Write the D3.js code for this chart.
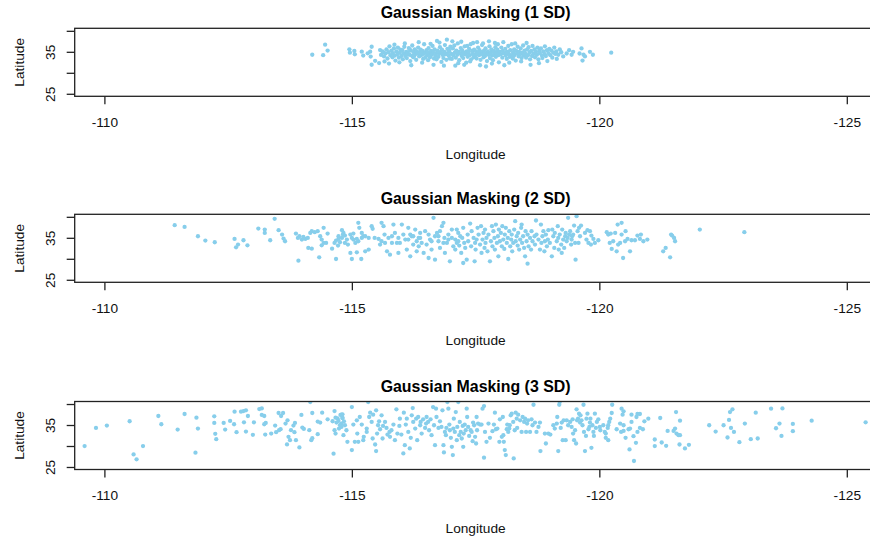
<!DOCTYPE html>
<html>
<head>
<meta charset="utf-8">
<script src="https://cdn.jsdelivr.net/npm/d3@7"></script>
<style>
html,body{margin:0;padding:0;background:#fff;}
svg{display:block;font-family:"Liberation Sans",Arial,Helvetica,sans-serif;}
</style>
</head>
<body>
<script>
// ---------- data ----------
const titles = ["Gaussian Masking (1 SD)", "Gaussian Masking (2 SD)", "Gaussian Masking (3 SD)"];
const xTicks = [-110, -115, -120, -125];
const yTicks = [25, 30, 35, 40];
const yLabelTicks = [25, 35];
const xLabel = "Longitude";
const yLabel = "Latitude";

// [longitude, latitude] pairs, 1 SD masking
const sd1 = [
[-114.2,34.3],[-114.42,34.2],[-114.46,36.7],[-114.51,35.3],
[-114.95,35.58],[-114.96,34.8],[-115.05,35.19],[-115.06,34.41],[-115.2,35.03],[-115.23,34.1],[-115.32,34.64],
[-115.37,35.03],[-115.38,33.87],[-115.4,36.2],[-115.4,31.92],[-115.47,32.85],[-115.55,32.31],[-115.57,35.42],[-115.59,34.25],[-115.64,34.88],
[-115.62,35.1],[-115.65,33.9],[-115.68,34.6],[-115.7,35.6],[-115.72,33.4],[-115.74,34.9],[-115.76,36.3],[-115.78,34.2],[-115.8,35.3],[-115.82,33.7],
[-115.83,34.7],[-115.85,35.8],[-115.87,34.1],[-115.88,32.9],[-115.9,35.1],[-115.92,34.4],[-115.93,36.0],[-115.95,33.6],[-115.97,34.8],[-115.98,35.5],
[-116.0,34.0],[-115.66,32.7],[-115.86,36.7],[-115.75,32.2],[-115.96,32.5],
[-116.02,35.4],[-116.03,33.2],[-116.05,34.6],[-116.06,36.2],[-116.08,34.0],[-116.1,35.0],[-116.11,33.5],[-116.13,34.8],[-116.15,35.9],[-116.16,34.3],
[-116.18,32.8],[-116.19,35.3],[-116.21,34.1],[-116.22,36.5],[-116.24,33.7],[-116.25,34.9],[-116.27,35.6],[-116.28,34.4],[-116.3,33.1],[-116.31,35.1],
[-116.33,34.6],[-116.34,36.0],[-116.36,33.9],[-116.37,34.9],[-116.39,35.5],[-116.4,34.2],[-116.42,32.4],[-116.43,35.2],[-116.45,34.5],[-116.46,36.8],
[-116.48,33.6],[-116.49,34.8],[-116.07,37.0],[-116.2,31.8],[-116.35,37.3],[-116.12,34.5],[-116.26,34.0],[-116.38,34.7],[-116.44,33.3],[-116.17,35.6],
[-116.51,35.4],[-116.52,34.1],[-116.54,33.0],[-116.55,35.9],[-116.57,34.6],[-116.58,33.7],[-116.6,35.2],[-116.61,34.3],[-116.63,36.4],[-116.64,34.9],
[-116.66,33.4],[-116.67,35.6],[-116.69,34.0],[-116.7,34.7],[-116.72,37.6],[-116.73,35.3],[-116.75,33.8],[-116.76,34.5],[-116.78,36.1],[-116.79,34.9],
[-116.81,32.6],[-116.82,35.5],[-116.84,34.2],[-116.85,33.5],[-116.87,35.0],[-116.88,36.6],[-116.9,34.4],[-116.91,33.1],[-116.93,35.7],[-116.94,34.7],
[-116.96,34.0],[-116.97,35.2],[-116.99,36.2],[-116.53,34.8],[-116.59,36.9],[-116.65,31.9],[-116.71,33.2],[-116.77,37.2],[-116.83,34.6],[-116.86,31.7],
[-116.92,37.9],[-116.98,33.4],[-116.62,34.4],[-116.74,35.0],[-116.95,35.5],
[-117.01,34.5],[-117.02,33.3],[-117.04,35.8],[-117.05,34.1],[-117.07,36.5],[-117.08,34.8],[-117.1,33.6],[-117.11,35.3],[-117.13,34.3],[-117.14,37.0],
[-117.16,35.0],[-117.17,33.0],[-117.19,34.6],[-117.2,35.9],[-117.22,34.0],[-117.23,35.4],[-117.25,33.5],[-117.26,34.8],[-117.28,36.3],[-117.29,34.4],
[-117.31,32.4],[-117.32,35.1],[-117.34,33.8],[-117.35,34.7],[-117.37,35.7],[-117.38,34.2],[-117.4,36.8],[-117.41,33.2],[-117.43,35.2],[-117.44,34.5],
[-117.46,33.7],[-117.47,35.5],[-117.49,34.0],[-117.03,37.5],[-117.09,31.7],[-117.15,32.3],[-117.21,37.4],[-117.27,31.9],[-117.33,36.4],[-117.39,32.7],
[-117.45,37.1],[-117.12,34.9],[-117.24,34.5],[-117.36,35.0],[-117.48,34.3],
[-117.51,35.1],[-117.52,33.4],[-117.54,34.6],[-117.55,36.0],[-117.57,34.2],[-117.58,35.4],[-117.6,33.1],[-117.61,34.9],[-117.63,36.6],[-117.64,34.4],
[-117.66,33.7],[-117.67,35.3],[-117.69,34.0],[-117.7,35.8],[-117.72,34.7],[-117.73,32.8],[-117.75,35.1],[-117.76,34.3],[-117.78,36.3],[-117.79,33.5],
[-117.81,34.8],[-117.82,35.6],[-117.84,34.1],[-117.85,33.0],[-117.87,35.2],[-117.88,34.5],[-117.9,36.1],[-117.91,33.8],[-117.93,34.9],[-117.94,35.5],
[-117.96,34.2],[-117.97,32.5],[-117.99,35.0],[-117.53,37.3],[-117.59,31.8],[-117.65,37.0],[-117.71,31.5],[-117.77,37.5],[-117.83,32.2],[-117.89,37.1],
[-117.95,36.8],[-117.56,34.8],[-117.68,34.6],[-117.8,34.4],[-117.92,34.3],
[-118.01,34.4],[-118.02,36.0],[-118.04,33.6],[-118.05,35.2],[-118.07,34.7],[-118.08,31.8],[-118.1,35.7],[-118.11,34.1],[-118.13,33.3],[-118.14,35.0],
[-118.16,36.4],[-118.17,34.5],[-118.19,33.8],[-118.2,35.4],[-118.22,34.2],[-118.23,36.8],[-118.25,33.4],[-118.26,34.9],[-118.28,35.6],[-118.29,34.3],
[-118.31,32.9],[-118.32,35.2],[-118.34,34.6],[-118.35,36.2],[-118.37,33.9],[-118.38,35.0],[-118.4,34.4],[-118.41,35.8],[-118.43,33.5],[-118.44,34.8],
[-118.46,36.5],[-118.47,34.1],[-118.49,35.3],[-118.53,37.1],[-118.06,37.3],[-118.18,32.4],[-118.3,37.0],[-118.42,32.7],[-118.12,34.8],[-118.27,34.0],
[-118.51,34.5],[-118.52,33.6],[-118.54,35.5],[-118.56,34.2],[-118.57,36.1],[-118.59,34.8],[-118.6,33.2],[-118.62,35.2],[-118.64,34.0],[-118.65,36.4],
[-118.67,34.6],[-118.69,35.6],[-118.7,33.7],[-118.72,35.0],[-118.74,34.3],[-118.75,36.0],[-118.77,33.2],[-118.79,35.3],[-118.8,34.7],[-118.82,35.8],
[-118.84,34.1],[-118.85,33.5],[-118.87,35.1],[-118.89,34.5],[-118.9,36.3],[-118.92,34.0],[-118.94,35.4],[-118.95,32.8],[-118.97,34.7],[-118.99,35.7],
[-118.61,31.9],[-118.78,32.3],
[-119.01,34.2],[-119.03,35.3],[-119.05,33.6],[-119.07,34.8],[-119.09,36.0],[-119.11,34.5],[-119.13,35.1],[-119.14,33.3],[-119.17,34.3],[-119.2,35.6],
[-119.23,34.9],[-119.27,33.9],[-119.34,34.6],[-119.39,35.4],[-119.44,34.3],[-119.47,35.0],
[-119.64,35.8],[-119.66,32.9],[-119.68,34.3],[-119.71,33.9],[-119.81,35.0],[-119.87,34.3],[-120.24,34.8],[-119.6,34.6]
];

// 2 SD masking
const sd2 = [
[-111.42,38.0],[-111.62,37.6],[-111.89,35.37],[-112.04,34.34],[-112.23,33.94],[-112.63,34.74],[-112.81,34.42],[-112.66,32.74],[-112.7,33.38],[-112.89,33.22],
[-113.11,37.21],[-113.24,36.97],[-113.24,36.17],[-113.35,34.42],[-113.44,39.52],[-113.52,36.81],[-113.59,35.77],[-113.62,34.82],[-113.65,34.18],
[-113.87,36.01],[-113.91,34.98],[-113.94,35.37],[-113.99,34.58],[-114.02,35.21],[-114.06,34.74],[-114.11,34.98],[-113.92,29.56],
[-114.16,36.17],[-114.19,36.57],[-114.25,36.33],[-114.31,36.57],[-114.36,35.37],[-114.39,34.58],[-114.12,32.58],[-114.19,32.42],[-114.34,30.35],
[-114.43,37.37],[-114.51,36.01],[-114.43,33.78],[-114.39,33.22],[-114.48,33.78],[-114.6,32.42],[-114.65,33.78],[-114.68,34.34],[-114.72,33.14],
[-114.73,34.74],[-114.76,33.94],[-114.8,34.98],[-114.83,36.17],[-114.86,33.78],[-114.9,34.58],[-114.92,33.38],[-114.68,29.95],[-114.8,36.81],
[-114.82,35.77],[-114.97,35.77],[-115.0,29.95],[-115.19,29.95],[-115.03,34.58],[-115.07,33.78],[-115.1,34.74],[-115.13,34.18],[-115.2,34.98],
[-115.23,35.37],[-115.13,38.56],[-115.15,37.37],[-115.27,35.37],[-115.34,34.98],[-115.4,37.77],[-115.42,37.13],[-115.46,34.98],[-115.34,32.19],
[-115.27,31.79],[-115.1,31.55],[-114.97,31.39],[-115.6,38.56],[-115.64,37.77],[-115.66,35.77],[-115.67,33.78],[-115.71,31.79],[-115.74,34.98],
[-115.77,30.99],[-115.81,33.78],[-115.84,38.16],[-115.87,36.17],[-115.91,33.78],[-115.94,31.39],[-116.01,38.16],[-116.04,35.77],[-116.08,34.58],
[-116.11,32.19],[-116.14,37.37],[-116.18,30.59],[-116.21,35.37],[-116.24,33.38],[-116.28,36.97],[-116.31,31.79],[-116.35,34.98],[-116.38,36.17],
[-116.41,33.78],[-116.45,31.39],[-116.48,36.57],[-116.51,33.38],[-116.55,30.19],[-116.58,34.58],[-116.61,32.19],[-116.65,39.76],[-116.68,29.8],
[-116.72,36.17],[-116.75,34.18],[-116.78,32.58],[-116.82,37.77],[-116.85,38.56],[-116.87,34.98],[-116.88,31.39],[-116.92,33.78],[-116.95,35.77],
[-116.98,29.4],[-117.02,36.97],[-117.05,32.98],[-117.09,34.58],[-117.15,36.17],
[-114.73,35.37],[-114.86,35.53],[-115.0,34.98],[-115.03,36.01],[-115.2,36.17],[-115.54,34.74],[-115.57,33.38],[-115.6,34.18],[-115.81,35.37],
[-115.94,34.98],[-115.97,33.78],[-116.14,34.58],[-116.18,35.77],[-116.24,35.37],[-116.31,34.18],[-116.35,32.98],[-116.38,34.98],[-116.55,35.77],
[-116.61,34.18],[-116.68,35.37],[-116.75,35.37],[-116.78,36.57],[-116.85,33.78],[-116.95,34.58],[-117.02,34.98],[-117.09,32.19],[-117.12,33.78],
[-117.12,36.97],[-117.15,34.18],[-117.17,33.14],[-117.19,35.37],[-117.21,31.39],[-117.23,34.98],[-117.25,37.37],[-117.25,29.0],[-117.27,33.78],
[-117.29,32.58],[-117.32,29.8],[-117.34,35.77],[-117.35,34.18],[-117.39,38.4],[-117.41,32.98],[-117.42,36.57],[-117.46,34.98],[-117.48,29.4],
[-117.49,33.78],[-117.5,32.19],[-117.52,34.58],[-117.54,37.37],[-117.56,35.77],[-117.59,33.38],[-117.61,37.77],[-117.62,31.39],[-117.64,34.58],
[-117.66,36.17],[-117.68,32.58],[-117.69,36.97],[-117.7,33.78],[-117.72,34.98],[-117.74,31.79],[-117.76,35.77],[-117.79,29.4],[-117.81,34.18],
[-117.83,37.77],[-117.84,32.98],[-117.86,36.57],[-117.88,34.98],[-117.89,32.19],[-117.91,38.16],[-117.93,33.78],[-117.95,35.37],[-117.96,30.59],
[-117.97,36.97],[-117.99,34.18],[-118.01,36.17],[-118.03,32.98],[-118.04,37.77],[-118.06,34.58],[-118.08,32.35],[-118.09,35.77],[-118.11,37.37],
[-118.13,33.78],[-118.15,34.98],[-118.16,29.95],[-118.18,36.57],[-118.2,32.98],[-118.22,34.58],[-118.23,35.77],[-118.24,31.79],[-118.26,33.78],
[-118.28,36.97],[-118.3,38.96],[-118.31,34.18],[-118.33,35.37],[-118.35,33.14],[-118.36,36.17],[-118.38,32.19],[-118.4,34.58],[-118.42,37.37],
[-118.43,38.16],[-118.44,33.78],[-118.46,35.37],[-118.48,32.58],[-118.5,30.59],[-118.51,36.57],[-118.53,34.18],[-118.55,28.84],[-118.55,35.77],
[-118.57,32.98],[-118.6,34.98],[-118.62,32.19],[-118.63,36.57],[-118.65,34.18],[-118.69,35.37],[-118.7,33.38],[-118.72,39.12],[-118.73,35.77],
[-118.77,34.58],[-118.8,32.19],[-118.82,38.16],[-118.83,33.78],[-118.85,35.37],[-118.87,36.57],[-118.89,31.79],[-118.9,34.18],[-118.92,35.77],
[-118.94,32.98],[-118.96,34.58],[-118.97,36.81],[-119.0,33.78],[-119.04,30.59],[-119.05,36.97],[-119.07,35.37],[-119.09,32.58],[-119.1,36.17],
[-119.14,34.18],[-119.16,37.77],[-119.17,34.98],[-119.18,32.19],[-119.2,35.77],[-119.23,33.38],[-119.24,31.39],[-119.25,36.97],[-119.27,34.58],
[-119.29,32.58],[-119.31,35.37],[-119.32,36.17],[-119.34,34.18],[-119.36,34.98],[-119.37,39.76],[-119.39,35.77],[-119.41,36.57],[-119.43,33.38],
[-119.44,34.58],[-119.45,35.37],[-119.47,35.77],[-119.49,37.92],[-119.51,33.78],[-119.52,29.8],[-119.54,40.16],[-119.56,36.57],[-119.58,33.78],
[-119.59,37.37],[-119.61,35.37],[-119.63,37.92],[-119.71,36.17],[-119.74,34.58],[-119.76,36.81],[-119.78,33.78],[-119.81,36.57],[-119.83,33.38],
[-119.84,35.53],[-119.88,34.74],[-119.91,33.78],[-119.98,34.42],[-120.15,36.33],[-120.18,35.77],[-120.21,33.78],[-120.23,36.01],[-120.25,32.35],
[-120.28,34.18],[-120.32,36.17],[-120.35,31.79],[-120.37,38.16],[-120.38,33.38],[-120.42,33.78],[-120.45,38.56],[-120.45,35.77],[-120.48,30.19],
[-120.52,34.18],[-120.53,36.57],[-120.57,34.74],[-120.62,31.79],[-120.65,34.42],[-120.72,34.42],[-120.77,35.53],[-120.82,34.74],[-120.84,35.77],
[-120.89,34.18],[-120.97,34.58],[-121.29,31.79],[-121.34,32.58],[-121.43,30.35],[-121.45,35.77],[-121.47,35.53],[-121.51,34.98],[-121.53,34.18],
[-122.03,36.97],[-122.93,36.33]
];

// 3 SD masking
const sd3 = [
[-109.6,29.97],[-109.83,34.31],[-110.05,34.86],[-110.51,35.89],[-110.59,28.0],[-110.65,26.82],[-110.78,29.97],[-111.09,37.15],[-111.15,35.18],
[-111.48,33.92],[-111.62,37.62],[-111.84,28.4],[-111.86,36.75],[-111.89,34.15],[-112.22,37.07],[-112.22,35.49],[-112.24,32.89],[-112.26,31.63],
[-112.41,35.49],[-112.44,33.92],[-112.54,35.97],[-112.63,38.17],[-112.62,35.18],[-112.67,33.29],[-112.76,38.17],[-112.81,38.33],[-112.86,38.49],
[-112.82,35.65],[-112.86,33.44],[-112.9,37.15],[-113.0,32.65],[-113.02,35.65],[-113.13,38.8],[-113.18,38.96],[-113.18,37.39],[-113.23,37.15],
[-113.23,35.18],[-113.26,35.49],[-113.25,32.73],[-113.37,32.97],[-113.45,34.86],[-113.47,33.29],[-113.52,37.86],[-113.53,33.76],[-113.56,34.0],
[-113.57,37.15],[-113.61,37.86],[-113.66,35.33],[-113.7,36.12],[-113.72,32.18],[-113.75,31.39],[-113.69,30.37],[-113.77,33.76],[-113.82,34.86],
[-113.85,35.49],[-113.84,33.29],[-113.87,31.39],[-113.94,29.66],[-113.98,37.39],[-114.0,34.39],[-114.03,34.07],[-114.14,33.76],[-114.16,40.46],
[-114.18,31.39],[-114.2,31.87],[-114.2,37.86],[-114.31,32.81],[-114.31,35.81],[-114.36,35.57],[-114.4,37.94],[-114.51,36.36],[-114.61,35.89],
[-114.65,38.33],[-114.63,28.16],[-114.65,33.76],[-114.67,32.97],[-114.67,36.75],[-114.71,36.6],[-114.73,35.97],[-114.76,34.94],[-114.79,35.33],
[-114.77,37.39],[-114.81,37.54],[-114.69,35.57],[-114.74,34.15],[-114.79,34.55],[-114.83,32.57],[-114.81,36.68],
[-114.79,37.46],[-114.81,36.67],[-114.84,35.88],[-114.86,34.94],[-114.89,33.75],[-114.91,30.99],[-115.0,39.28],[-115.0,29.02],[-115.03,35.1],
[-115.06,30.99],[-115.1,36.12],[-115.11,32.96],[-115.13,30.99],[-115.16,36.91],[-115.2,35.1],[-115.23,31.39],[-115.24,32.18],[-115.3,34.15],
[-115.3,33.36],[-115.33,40.46],[-115.35,36.91],[-115.37,37.94],[-115.4,35.73],[-115.42,31.78],[-115.43,37.46],[-115.47,30.36],[-115.49,28.78],
[-115.49,38.49],[-115.51,32.96],[-115.53,34.94],[-115.55,35.88],[-115.57,33.99],[-115.6,37.3],[-115.62,31.78],[-115.63,34.78],[-115.67,35.73],
[-115.7,34.31],[-115.72,32.73],[-115.76,33.36],[-115.77,32.18],[-115.8,33.75],[-115.84,35.1],[-115.87,31.39],[-115.9,38.73],[-115.92,32.96],
[-115.96,34.78],[-115.97,36.52],[-116.0,32.73],[-116.04,28.23],[-116.05,37.94],[-116.07,30.2],[-116.09,35.1],[-116.11,36.52],[-116.14,33.36],
[-116.17,29.41],[-116.19,31.94],[-116.21,37.3],[-116.23,39.04],[-116.24,35.73],[-116.28,34.15],[-116.3,36.52],[-116.32,31.39],[-116.34,36.91],
[-116.38,34.94],[-116.39,35.73],[-116.41,32.96],[-116.44,36.36],[-116.48,34.31],[-116.5,35.33],[-116.51,36.91],[-116.54,35.73],[-116.56,33.75],
[-116.59,36.36],[-116.61,32.57],[-116.64,39.28],[-116.66,34.94],[-116.68,30.2],[-116.7,38.88],[-116.71,36.91],[-116.75,34.31],[-116.78,35.88],
[-116.81,34.54],[-116.83,38.49],[-116.85,30.2],[-116.86,28.47],[-116.88,33.36],[-116.9,32.57],[-116.91,34.31],[-116.93,40.46],[-116.95,38.88],
[-116.97,35.1],[-116.98,33.75],[-117.0,31.94],[-117.02,29.81],[-117.04,27.84],[-117.05,34.15],[-117.06,36.52],[-117.08,33.36],[-117.1,38.09],
[-117.12,31.39],[-117.13,34.54],[-117.15,40.46],[-117.17,32.57],[-117.18,35.73],[-117.2,33.36],[-117.22,31.78],[-117.24,34.78],[-117.25,29.81],
[-117.26,32.96],[-117.28,35.1],[-117.3,33.75],[-117.32,38.88],[-117.33,36.91],[-117.35,34.54],[-117.37,32.41],[-117.4,33.75],[-117.42,33.36],
[-117.44,31.15],[-117.45,35.57],[-117.47,34.94],[-117.49,32.18],[-117.51,30.6],[-117.52,36.91],[-117.53,33.75],[-117.55,35.33],[-117.59,35.1],
[-117.62,35.1],[-117.64,38.88],[-117.67,39.51],[-117.67,27.21],[-117.69,33.36],[-117.72,30.99],[-117.76,35.33],[-117.79,31.94],[-117.84,33.52],
[-117.87,35.1],[-117.89,37.94],[-117.91,33.99],[-117.94,34.15],[-117.98,30.99],[-117.99,36.36],[-118.03,32.18],[-118.05,36.91],[-118.06,32.57],
[-118.07,30.99],[-118.09,29.02],[-118.11,27.84],[-118.13,33.99],[-118.14,35.1],[-118.16,33.36],[-118.18,34.15],[-118.19,34.94],[-118.21,37.3],
[-118.23,37.7],[-118.26,35.73],[-118.27,27.05],[-118.29,33.75],[-118.31,37.94],[-118.33,36.52],[-118.34,34.31],[-118.36,37.46],[-118.4,36.12],
[-118.43,33.36],[-118.45,36.91],[-118.48,35.73],[-118.5,36.52],[-118.52,33.36],[-118.54,35.33],[-118.56,36.12],[-118.6,33.36],[-118.63,36.36],
[-118.65,34.94],[-118.67,39.83],[-118.7,35.57],[-118.73,33.36],[-118.77,34.54],[-118.8,35.57],[-118.81,28.78],[-118.9,32.96],[-118.92,30.6],
[-118.97,32.96],[-119.01,32.73],[-119.07,34.94],[-119.1,34.15],[-119.14,35.33],[-119.15,36.91],[-119.17,28.78],[-119.19,39.83],[-119.2,40.46],
[-119.22,34.31],[-119.24,35.57],[-119.26,31.39],[-119.28,36.12],[-119.32,31.39],[-119.34,36.12],[-119.37,34.94],[-119.41,35.73],[-119.44,34.54],
[-119.46,36.36],[-119.47,32.96],[-119.49,31.39],[-119.51,33.75],[-119.53,30.6],[-119.54,38.73],[-119.55,36.12],[-119.57,36.52],[-119.59,37.7],
[-119.61,35.57],[-119.62,37.3],[-119.64,36.12],[-119.66,34.94],[-119.68,39.83],[-119.69,33.36],[-119.71,28.78],[-119.73,32.41],[-119.74,36.52],
[-119.76,37.7],[-119.78,33.99],[-119.8,34.54],[-119.81,35.57],[-119.82,36.52],[-119.84,29.57],[-119.86,34.94],[-119.88,33.36],[-119.89,32.41],
[-119.91,37.7],[-119.93,34.31],[-119.95,35.73],[-119.98,36.36],[-120.01,34.54],[-120.02,33.75],[-120.08,34.94],[-120.11,33.36],
[-120.26,39.83],[-120.25,37.86],[-120.22,36.52],[-120.2,35.73],[-120.18,34.94],[-120.17,34.31],[-120.13,32.97],[-120.13,31.94],[-120.18,31.39],
[-120.35,33.99],[-120.42,35.33],[-120.45,38.88],[-120.49,38.25],[-120.47,37.46],[-120.49,34.94],[-120.44,33.36],[-120.49,33.6],[-120.53,31.94],
[-120.59,33.99],[-120.62,34.15],[-120.61,29.18],[-120.65,35.73],[-120.65,37.46],[-120.69,32.33],[-120.7,26.42],[-120.74,30.76],[-120.75,36.91],
[-120.77,37.62],[-120.82,37.62],[-120.77,33.36],[-120.82,34.31],[-120.88,33.99],[-120.91,35.88],[-120.99,36.52],[-121.12,31.55],[-121.12,29.97],
[-121.23,36.67],[-121.26,30.83],[-121.35,30.05],[-121.38,33.6],[-121.5,33.6],[-121.53,34.15],[-121.55,38.09],[-121.56,32.97],[-121.6,32.57],
[-121.63,32.57],[-121.63,36.04],[-121.62,30.36],[-121.73,29.41],[-121.81,30.28],[-122.22,34.94],[-122.35,33.44],[-122.51,34.94],[-122.59,32.02],
[-122.62,36.2],[-122.64,38.09],[-122.69,38.73],[-122.66,34.31],[-122.72,33.36],[-122.83,30.91],[-122.94,35.33],[-123.06,31.62],[-123.2,31.78],
[-123.16,37.94],[-123.47,38.88],[-123.57,34.23],[-123.64,35.33],[-123.68,32.41],[-123.7,38.96],[-123.91,35.25],[-123.91,33.52],[-124.29,36.04],
[-125.38,35.65]
];

const panelData = [sd1, sd2, sd3];

// ---------- layout ----------
const W = 870, H = 539;
const plotLeft = 74.7, plotRight = 876.5, plotH = 68;
const panelTops = [28.3, 214.3, 401.5];
const fontTick = 13.7, fontTitle = 15.9;

const svg = d3.select("body").append("svg").attr("width", W).attr("height", H);

const x = d3.scaleLinear().domain([-109.4, -125.6]).range([plotLeft, plotRight]);

panelData.forEach((data, i) => {
  const top = panelTops[i], bot = top + plotH;
  const y = d3.scaleLinear().domain([24.4, 40.6]).range([bot, top]);
  const g = svg.append("g");

  g.append("clipPath").attr("id", "clip" + i)
    .append("rect").attr("x", plotLeft).attr("y", top)
    .attr("width", plotRight - plotLeft).attr("height", plotH);

  g.append("g").attr("clip-path", `url(#clip${i})`)
    .selectAll("circle").data(data).join("circle")
    .attr("cx", d => x(d[0])).attr("cy", d => y(d[1]))
    .attr("r", 2.15).attr("fill", "#87CEEB");

  g.append("rect").attr("x", plotLeft).attr("y", top)
    .attr("width", plotRight - plotLeft).attr("height", plotH)
    .attr("fill", "none").attr("stroke", "#222").attr("stroke-width", 1.3);

  // x axis
  const xa = g.append("g").attr("transform", `translate(0,${bot})`)
    .call(d3.axisBottom(x).tickValues(xTicks).tickSize(8).tickSizeOuter(0)
      .tickPadding(12.9).tickFormat(d => String(d)));
  xa.select(".domain").remove();
  xa.attr("font-size", null).attr("font-family", null);
  xa.selectAll("line").attr("stroke", "#222").attr("stroke-width", 1.3);
  xa.selectAll("text").attr("font-size", fontTick).attr("fill", "#111");

  // y axis
  const ya = g.append("g").attr("transform", `translate(${plotLeft},0)`)
    .call(d3.axisLeft(y).tickValues(yTicks).tickSize(8).tickSizeOuter(0)
      .tickFormat(d => yLabelTicks.includes(d) ? String(d) : ""));
  ya.select(".domain").remove();
  ya.attr("font-size", null).attr("font-family", null);
  ya.selectAll("line").attr("stroke", "#222").attr("stroke-width", 1.3);
  ya.selectAll("text").attr("x", null).attr("dy", null)
    .attr("text-anchor", "middle")
    .attr("transform", `translate(${55 - plotLeft},0) rotate(-90)`)
    .attr("font-size", fontTick).attr("fill", "#111");

  // title
  g.append("text").attr("x", (plotLeft + plotRight) / 2).attr("y", top - 10)
    .attr("text-anchor", "middle").attr("font-weight", "bold")
    .attr("font-size", fontTitle).attr("fill", "#000").text(titles[i]);

  // axis labels
  g.append("text").attr("x", (plotLeft + plotRight) / 2).attr("y", bot + 63)
    .attr("text-anchor", "middle").attr("font-size", fontTick).attr("fill", "#111")
    .text(xLabel);
  g.append("text")
    .attr("transform", `translate(24,${(top + bot) / 2}) rotate(-90)`)
    .attr("text-anchor", "middle").attr("font-size", fontTick).attr("fill", "#111")
    .text(yLabel);
});
</script>
</body>
</html>
